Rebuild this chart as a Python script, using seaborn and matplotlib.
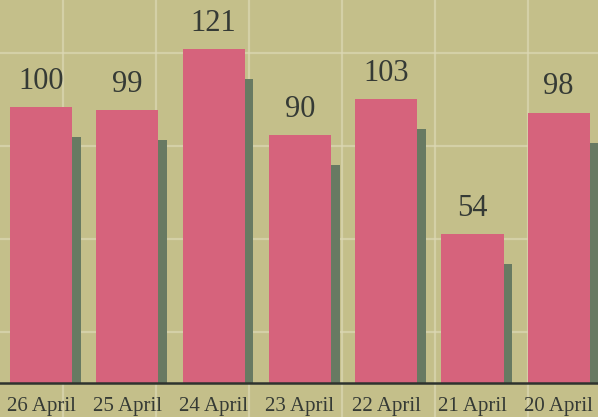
import numpy as np
import pandas as pd
import seaborn as sns
import matplotlib
matplotlib.use("Agg")
import matplotlib.pyplot as plt

# daily counts, newest first as printed
days = ["26 April", "25 April", "24 April", "23 April", "22 April", "21 April", "20 April"]
counts = [100, 99, 121, 90, 103, 54, 98]

paper = "#c4bf8a"
bar_red = "#d6637c"
shadow = "#687a62"
ink = "#353a35"

sns.set_style("white", {"axes.facecolor": "none", "figure.facecolor": paper})
plt.rcParams["font.family"] = ["Liberation Serif", "DejaVu Serif"]

df = pd.DataFrame({"day": days, "count": counts})

fig = plt.figure(figsize=(5.98, 4.17), dpi=100)

# faint printed grid behind everything (in pixel units)
bg = fig.add_axes([0, 0, 1, 1], zorder=-1)
bg.set_xlim(0, 598)
bg.set_ylim(417, 0)
bg.set_facecolor(paper)
for gx in np.arange(63, 598, 93):
    bg.axvline(gx, color="#dcd8b4", lw=1.6, alpha=0.7)
for gy in np.arange(53, 383, 93):
    bg.axhline(gy, color="#dcd8b4", lw=1.6, alpha=0.7)
bg.axis("off")

ax = fig.add_axes([0, 34 / 417, 1, 383 / 417])

# dark misregistered shadow on the right of each bar
pos = np.arange(len(days))
ax.bar(pos + 0.1, np.array(counts) - 11, width=0.72, color=shadow,
       linewidth=0, zorder=1)

sns.barplot(data=df, x="day", y="count", order=days, color=bar_red,
            width=0.72, saturation=1, linewidth=0, edgecolor="none",
            ax=ax, zorder=2)
ax.bar_label(ax.containers[-1], labels=[str(c) for c in counts], padding=8,
             fontsize=22, color=ink)

ax.set_xlim(-0.475, 6.455)
ax.set_ylim(0, 138.8)
ax.set_xlabel("")
ax.set_ylabel("")
ax.set_yticks([])
ax.tick_params(axis="x", length=0, pad=10, labelsize=15, labelcolor=ink)
for s in ["top", "right", "left"]:
    ax.spines[s].set_visible(False)
ax.spines["bottom"].set_color("#2e332e")
ax.spines["bottom"].set_linewidth(1.8)

plt.savefig("out.png", dpi=100, facecolor=paper)
